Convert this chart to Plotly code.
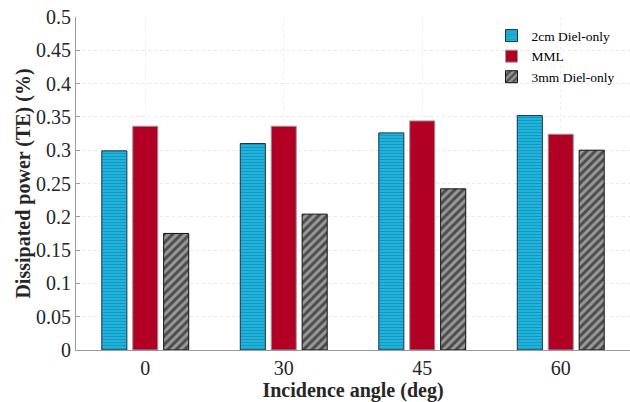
import plotly.graph_objects as go

categories = ["0", "30", "45", "60"]
diel_2cm = [0.299, 0.310, 0.326, 0.352]
mml = [0.336, 0.336, 0.344, 0.324]
diel_3mm = [0.175, 0.204, 0.242, 0.300]
series_names = ["2cm Diel-only", "MML", "3mm Diel-only"]
y_ticks = [0, 0.05, 0.1, 0.15, 0.2, 0.25, 0.3, 0.35, 0.4, 0.45, 0.5]
y_tick_text = ["0", "0.05", "0.1", "0.15", "0.2", "0.25", "0.3", "0.35", "0.4", "0.45", "0.5"]

FONT = "Liberation Serif, Times New Roman, serif"

fig = go.Figure()
fig.add_trace(go.Bar(
    x=categories, y=diel_2cm, name=series_names[0],
    marker=dict(color="#1CB8DA", line=dict(color="#1a3050", width=1),
                pattern=dict(shape="-", fgcolor="#1A6FB0", bgcolor="#1CB8DA",
                             size=3, solidity=0.4)),
))
fig.add_trace(go.Bar(
    x=categories, y=mml, name=series_names[1],
    marker=dict(color="#B20024", line=dict(color="#999999", width=1)),
))
fig.add_trace(go.Bar(
    x=categories, y=diel_3mm, name=series_names[2],
    marker=dict(color="#999999", line=dict(color="#111111", width=1),
                pattern=dict(shape="/", fgcolor="#000000", bgcolor="#999999",
                             size=6, solidity=0.5)),
))

fig.update_layout(
    width=630, height=402,
    margin=dict(l=76, r=0, t=17, b=52, autoexpand=False),
    paper_bgcolor="white", plot_bgcolor="white",
    barmode="group", bargap=0.33, bargroupgap=0.19,
    font=dict(family=FONT, size=20, color="#262626"),
    showlegend=True,
    legend=dict(x=0.75, y=0.99, xanchor="left", yanchor="top",
                font=dict(family=FONT, size=13.5, color="#000000"),
                bgcolor="rgba(255,255,255,0)", borderwidth=0,
                tracegroupgap=0, itemwidth=30),
)
fig.update_xaxes(
    range=[-0.5, 3.5], showline=True, linecolor="#9a9a9a", linewidth=1,
    ticks="", showgrid=True, gridcolor="#efefef", griddash="dot", gridwidth=1,
    tickfont=dict(family=FONT, size=20, color="#262626"),
    title=dict(text="<b>Incidence angle (deg)</b>", standoff=6,
               font=dict(family=FONT, size=20, color="#262626")),
    zeroline=False, automargin=False,
)
fig.update_yaxes(
    range=[0, 0.5], tickvals=y_ticks, ticktext=y_tick_text,
    showline=True, linecolor="#9a9a9a", linewidth=1,
    ticks="inside", ticklen=4, tickcolor="#9a9a9a",
    showgrid=True, gridcolor="#e8e8e8", griddash="dot", gridwidth=1,
    tickfont=dict(family=FONT, size=20, color="#262626"),
    title=dict(text="<b>Dissipated power (TE) (%)</b>", standoff=0,
               font=dict(family=FONT, size=20, color="#262626")),
    zeroline=False, automargin=False,
)

fig.write_html(
    "out.html",
    config={"displayModeBar": False},
    post_script="document.body.style.margin='0';document.body.style.overflow='hidden';",
)
